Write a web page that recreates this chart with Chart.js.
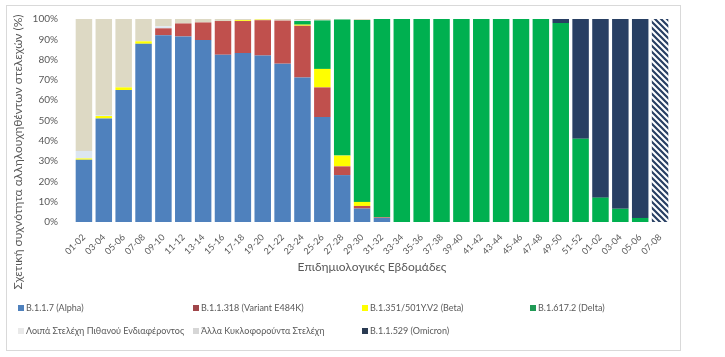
<!DOCTYPE html>
<html>
<head>
<meta charset="utf-8">
<script src="https://cdn.jsdelivr.net/npm/chart.js@4"></script>
<style>
  html, body { margin: 0; padding: 0; background: #fff; }
  #wrap { position: relative; width: 725px; height: 357px; overflow: hidden; }
  #frame { position: absolute; left: 6px; top: 5px; width: 675px; height: 346px; border: 1px solid #d9d9d9; box-sizing: border-box; }
  canvas { position: absolute; left: 0; top: 0; }
  #legend { position: absolute; left: 18px; top: 302px; width: 680px; font-family: Lato, "Open Sans", sans-serif; font-size: 9px; color: #595959; }
  .li { position: absolute; white-space: nowrap; line-height: 12px; }
  .sw { display: inline-block; width: 6px; height: 6px; margin-right: 2px; vertical-align: 0px; }
</style>
</head>
<body>
<div id="wrap">
  <div id="frame"></div>
  <canvas id="c" width="725" height="357"></canvas>
  <div id="legend"></div>
</div>
<script>
const weeks = ['01-02','03-04','05-06','07-08','09-10','11-12','13-14','15-16','17-18','19-20','21-22','23-24','25-26','27-28','29-30','31-32','33-34','35-36','37-38','39-40','41-42','43-44','45-46','47-48','49-50','51-52','01-02','03-04','05-06','07-08'];

const alpha   = [30.7, 51.0, 65.0, 87.8, 92.0, 91.4, 89.6, 82.4, 83.2, 82.0, 78.0, 71.2, 51.7, 23.1, 6.6, 2.0, 0, 0, 0, 0, 0, 0, 0, 0, 0, 0, 0, 0, 0, 0];
const e484k   = [0, 0, 0, 0, 3.4, 6.4, 8.7, 16.6, 15.8, 17.4, 21.2, 25.5, 14.6, 4.3, 1.3, 0.3, 0, 0, 0, 0, 0, 0, 0, 0, 0, 0, 0, 0, 0, 0];
const beta    = [0.6, 1.2, 1.3, 1.2, 0, 0, 0, 0, 0.4, 0.3, 0, 0.5, 9.1, 5.3, 2.0, 0, 0, 0, 0, 0, 0, 0, 0, 0, 0, 0, 0, 0, 0, 0];
const delta   = [0, 0, 0, 0, 0, 0, 0, 0, 0, 0, 0, 1.8, 23.9, 67.1, 89.6, 97.7, 100, 100, 100, 100, 100, 100, 100, 100, 98.0, 41.0, 12.0, 6.5, 2.0, 0];
const voi     = [3.7, 0.5, 0, 0, 1.0, 0, 0, 0, 0, 0, 0, 0.3, 0, 0, 0, 0, 0, 0, 0, 0, 0, 0, 0, 0, 0, 0, 0, 0, 0, 0];
const other   = [65.0, 47.3, 33.7, 11.0, 3.6, 2.2, 1.7, 1.0, 0.6, 0.3, 0.8, 0.7, 0.7, 0.2, 0.5, 0, 0, 0, 0, 0, 0, 0, 0, 0, 0, 0, 0, 0, 0, 0];
const omicron = [0, 0, 0, 0, 0, 0, 0, 0, 0, 0, 0, 0, 0, 0, 0, 0, 0, 0, 0, 0, 0, 0, 0, 0, 2.0, 59.0, 88.0, 93.5, 98.0, 100];

const seriesNames = ['B.1.1.7 (Alpha)', 'B.1.1.318 (Variant E484K)', 'B.1.351/501Y.V2 (Beta)', 'B.1.617.2 (Delta)', 'Λοιπά Στελέχη Πιθανού Ενδιαφέροντος', 'Άλλα Κυκλοφορούντα Στελέχη', 'B.1.1.529 (Omicron)'];
const yTicks = [0, 10, 20, 30, 40, 50, 60, 70, 80, 90, 100];
const yTitle = 'Σχετική συχνότητα αλληλουχηθέντων στελεχών (%)';
const xTitle = 'Επιδημιολογικές Εβδομάδες';

const colors = ['#4f81bd', '#c0504d', '#ffff00', '#00b050', '#dce6f1', '#ddd9c4', '#283f63'];
const legendColors = ['#4f81bd', '#a0464a', '#ffff00', '#1f9a55', '#e9e9e9', '#d6d6d6', '#2a3b52'];

const canvas = document.getElementById('c');
const ctx2d = canvas.getContext('2d');
// hatch pattern for the last (incomplete) week
const pc = document.createElement('canvas');
pc.width = 6; pc.height = 6;
const p = pc.getContext('2d');
p.fillStyle = '#ffffff'; p.fillRect(0, 0, 6, 6);
p.strokeStyle = '#283f63'; p.lineWidth = 2.2;
p.beginPath();
p.moveTo(0, 0); p.lineTo(6, 6);
p.moveTo(-3, 3); p.lineTo(3, 9);
p.moveTo(3, -3); p.lineTo(9, 3);
p.stroke();
const hatch = ctx2d.createPattern(pc, 'repeat');

const seriesData = [alpha, e484k, beta, delta, voi, other, omicron];
const datasets = seriesData.map((d, i) => ({
  label: seriesNames[i],
  data: d,
  backgroundColor: i === 6 ? (c => c.dataIndex === weeks.length - 1 ? hatch : colors[6]) : colors[i],
  borderWidth: 0,
  barPercentage: 0.83,
  categoryPercentage: 1.0
}));

const font = "Lato, 'Open Sans', sans-serif";

const yTitlePlugin = {
  id: 'yTitle',
  afterDraw(chart) {
    const c = chart.ctx;
    c.save();
    c.translate(18, 152);
    c.rotate(-Math.PI / 2);
    c.font = "12px " + font;
    c.fillStyle = '#595959';
    c.textAlign = 'center';
    c.textBaseline = 'middle';
    c.fillText(yTitle, 0, 0);
    c.restore();
  }
};

new Chart(canvas, {
  type: 'bar',
  data: { labels: weeks, datasets },
  plugins: [yTitlePlugin],
  options: {
    responsive: false,
    animation: false,
    events: [],
    layout: { padding: { left: 6, top: 19, right: 55, bottom: 79 } },
    plugins: { legend: { display: false }, tooltip: { enabled: false } },
    scales: {
      x: {
        stacked: true,
        grid: { display: false },
        border: { display: false },
        ticks: { minRotation: 45, maxRotation: 45, autoSkip: false, color: '#595959', font: { family: font, size: 9 }, padding: 2 },
        title: { display: true, text: xTitle, color: '#595959', font: { family: font, size: 12 }, padding: { top: 0, bottom: 4 } },
        afterFit: s => { s.height = 56; }
      },
      y: {
        stacked: true,
        min: 0, max: 100,
        grid: { display: false },
        border: { display: false },
        afterBuildTicks: s => { s.ticks = yTicks.map(v => ({ value: v })); },
        ticks: { color: '#595959', font: { family: font, size: 10 }, padding: 8, callback: v => v + '%' },
        afterFit: s => { s.width = 68; }
      }
    }
  }
});

// legend
const legendPos = [[0,0],[175,0],[344,0],[512,0],[0,23],[175,23],[344,23]];
const lg = document.getElementById('legend');
seriesNames.forEach((n, i) => {
  const d = document.createElement('div');
  d.className = 'li';
  d.style.left = legendPos[i][0] + 'px';
  d.style.top = legendPos[i][1] + 'px';
  d.innerHTML = '<span class="sw" style="background:' + legendColors[i] + '"></span>' + n;
  lg.appendChild(d);
});
</script>
</body>
</html>
